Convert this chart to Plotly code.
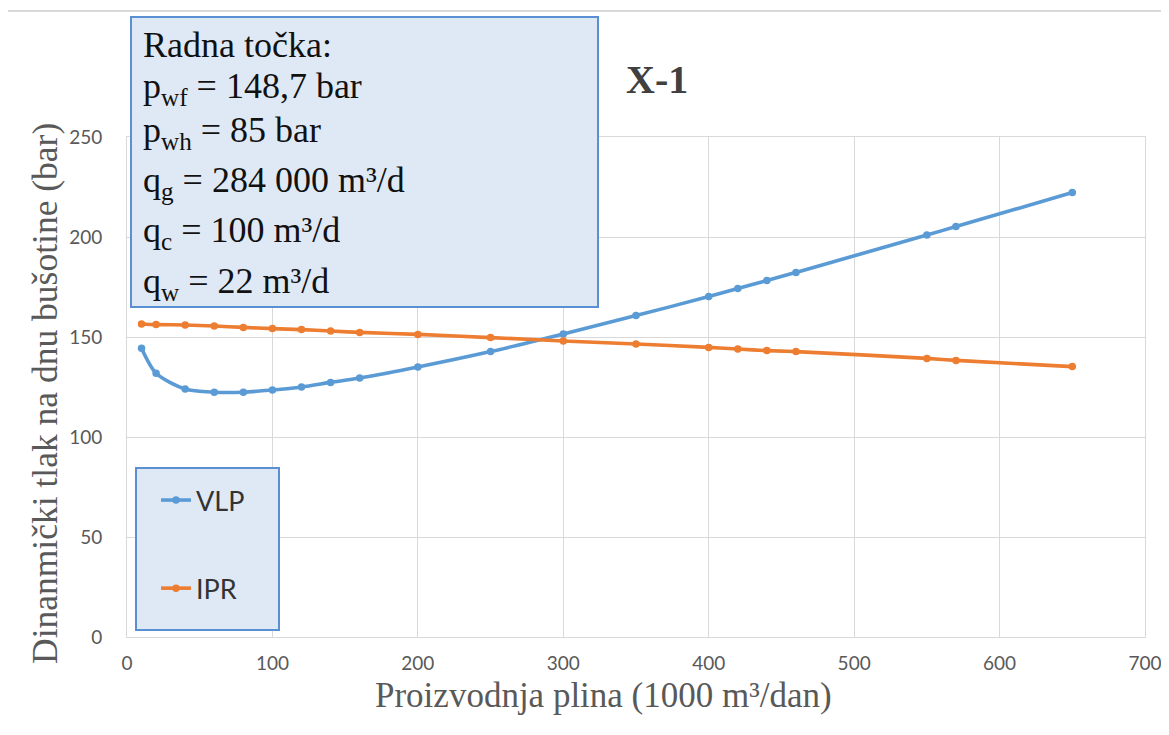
import plotly.graph_objects as go

# ---- data ----
q_gas = [10, 20, 40, 60, 80, 100, 120, 140, 160, 200, 250, 300, 350, 400, 420, 440, 460, 550, 570, 650]
p_vlp = [144.4, 131.9, 124.0, 122.4, 122.4, 123.5, 125.0, 127.3, 129.5, 135.0, 142.7, 151.5,
         160.7, 170.2, 174.3, 178.2, 182.3, 201.0, 205.2, 222.2]
p_ipr = [156.5, 156.2, 156.0, 155.5, 154.8, 154.2, 153.7, 153.0, 152.3, 151.3, 149.7, 148.0,
         146.5, 144.8, 144.0, 143.2, 142.7, 139.3, 138.3, 135.2]
x_ticks = [0, 100, 200, 300, 400, 500, 600, 700]
y_ticks = [0, 50, 100, 150, 200, 250]
box_lines = [
    "Radna točka:",
    "p<sub>wf</sub> = 148,7 bar",
    "p<sub>wh</sub> = 85 bar",
    "q<sub>g</sub> = 284 000 m³/d",
    "q<sub>c</sub> = 100 m³/d",
    "q<sub>w</sub> = 22 m³/d",
]

W, H = 1169, 735
OFF = 8  # page body margin in the browser
PL, PR, PT, PB = 127, 1145, 137, 637  # plot area in screen pixels
L, T = PL - OFF, PT - OFF
R, B = W - (PR - OFF), H - (PB - OFF)
PW, PH = PR - PL, PB - PT


def px(xp):
    return (xp - PL) / PW


def py(yp):
    return (PB - yp) / PH


BLUE = "#5b9bd5"
ORANGE = "#ed7d31"
GRID = "#d9d9d9"
GREY = "#595959"
SERIF = "Liberation Serif, Times New Roman, serif"
SANS = "Lato, Open Sans, sans-serif"

fig = go.Figure()
fig.add_trace(go.Scatter(x=q_gas, y=p_vlp, name="VLP", mode="lines+markers",
                         line=dict(color=BLUE, width=3.6, shape="spline", smoothing=0.8),
                         marker=dict(color=BLUE, size=7.5), legendgroup="a"))
fig.add_trace(go.Scatter(x=q_gas, y=p_ipr, name="IPR", mode="lines+markers",
                         line=dict(color=ORANGE, width=3.6, shape="spline", smoothing=0.8),
                         marker=dict(color=ORANGE, size=7.5), legendgroup="b"))

shapes = [
    # outer chart border
    dict(type="rect", xref="paper", yref="paper", x0=px(7), x1=px(1185), y0=py(750), y1=py(11),
         line=dict(color=GRID, width=2), fillcolor="rgba(0,0,0,0)", layer="below"),
    # info box
    dict(type="rect", xref="paper", yref="paper", x0=px(131), x1=px(598), y0=py(307), y1=py(17),
         line=dict(color="#5a8fd3", width=2), fillcolor="#dfe9f6", layer="above"),
    # legend box
    dict(type="rect", xref="paper", yref="paper", x0=px(136), x1=px(279), y0=py(630), y1=py(468),
         line=dict(color="#5a8fd3", width=2), fillcolor="#dfe9f6", layer="above"),
]

annotations = []
centers = [45, 89, 132, 182, 233, 283]
for txt, cy in zip(box_lines, centers):
    annotations.append(dict(text=txt, xref="paper", yref="paper", x=px(141), y=py(cy),
                            xanchor="left", yanchor="middle", showarrow=False,
                            font=dict(family=SERIF, size=36, color="#111111")))
annotations.append(dict(text="<b>X-1</b>", xref="paper", yref="paper", x=px(657), y=py(80),
                        xanchor="center", yanchor="middle", showarrow=False,
                        font=dict(family=SERIF, size=40, color="#404040")))
annotations.append(dict(text="Proizvodnja plina (1000 m³/dan)", xref="paper", yref="paper",
                        x=px(603), y=py(696), xanchor="center", yanchor="middle", showarrow=False,
                        font=dict(family=SERIF, size=35, color=GREY)))
annotations.append(dict(text="Dinanmički tlak na dnu bušotine (bar)", xref="paper", yref="paper",
                        x=px(45), y=py(394), xanchor="center", yanchor="middle", showarrow=False,
                        textangle=-90, font=dict(family=SERIF, size=35.5, color=GREY)))

fig.update_layout(
    width=W, height=H,
    margin=dict(l=L, r=R, t=T, b=B, autoexpand=False),
    paper_bgcolor="white", plot_bgcolor="white",
    showlegend=True,
    legend=dict(x=px(156), y=py(476), xanchor="left", yanchor="top",
                bgcolor="rgba(0,0,0,0)", borderwidth=0,
                font=dict(family=SANS, size=27, color="#333333"),
                tracegroupgap=50, itemwidth=30),
    shapes=shapes,
    annotations=annotations,
    xaxis=dict(range=[0, 700], tickvals=x_ticks, showgrid=True, gridcolor=GRID, gridwidth=1,
               zeroline=False, showline=True, linecolor=GRID, linewidth=1, mirror=True,
               ticks="", ticklabelstandoff=9,
               tickfont=dict(family=SANS, size=19, color=GREY)),
    yaxis=dict(range=[0, 250], tickvals=y_ticks, showgrid=True, gridcolor=GRID, gridwidth=1,
               zeroline=False, showline=True, linecolor=GRID, linewidth=1, mirror=True,
               ticks="", ticklabelstandoff=20,
               tickfont=dict(family=SANS, size=19, color=GREY)),
)

fig.write_html("out.html")
